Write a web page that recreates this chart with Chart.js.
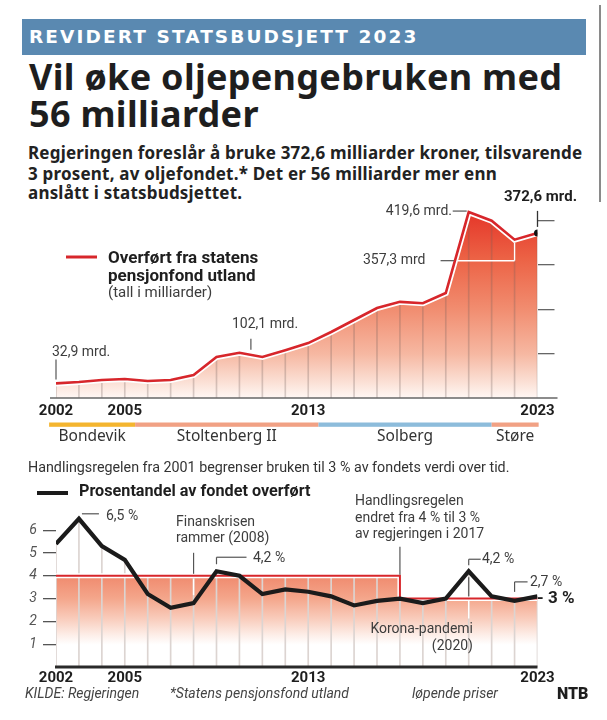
<!DOCTYPE html>
<html lang="no">
<head>
  <meta charset="utf-8" />
  <title>Revidert statsbudsjett 2023</title>
  <script src="https://cdn.jsdelivr.net/npm/chart.js"></script>
  <style>
    html, body { margin: 0; background: #fff; }
    body { width: 607px; height: 720px; position: relative; overflow: hidden; font-family: Roboto, "Noto Sans", sans-serif; color: #222; }
    .t { position: absolute; white-space: nowrap; line-height: 1; }
    .kicker { position: absolute; left: 22px; top: 19px; width: 564px; height: 36px; background: #5a89b1; color: #fff;
      font: 700 18.5px/36px "DejaVu Sans"; letter-spacing: 2.1px; padding-left: 7px; box-sizing: border-box; }
    .title { font-family: "Noto Sans"; font-size: 36px; font-weight: 700; color: #1e1e1e; letter-spacing: 0.3px; }
    .lead { font-family: "Noto Sans"; font-size: 17px; font-weight: 700; color: #222; letter-spacing: 0.2px; }
    .ann { font-size: 14px; color: #3d3d3d; }
    .legend { font-size: 17px; font-weight: 700; color: #1e1e1e; }
    .foot { font-size: 14px; font-style: italic; color: #444; }
    .gov { font-family: "Noto Sans"; font-size: 15.5px; color: #333; transform: translateX(-50%); }
    .edge { position: absolute; left: 599px; top: 5px; width: 2px; height: 197px; background: #8a8a8a; }
    canvas { position: absolute; left: 0; }
  </style>
</head>
<body>
  <div class="kicker">REVIDERT STATSBUDSJETT 2023</div>
  <div class="edge"></div>
  <div class="t title" style="left:29px; top:59px;">Vil øke oljepengebruken med</div>
  <div class="t title" style="left:29px; top:96px;">56 milliarder</div>
  <div class="t lead" style="left:28px; top:143.9px;">Regjeringen foreslår å bruke 372,6 milliarder kroner, tilsvarende</div>
  <div class="t lead" style="left:28px; top:164.9px;">3 prosent, av oljefondet.* Det er 56 milliarder mer enn</div>
  <div class="t lead" style="left:28px; top:184.4px;">anslått i statsbudsjettet.</div>

  <canvas id="topCanvas" width="607" height="265" style="top:190px; width:607px; height:265px;"></canvas>
  <canvas id="botCanvas" width="607" height="205" style="top:490px; width:607px; height:205px;"></canvas>

  <!-- top chart labels -->
  <div class="t legend" style="left:108px; top:248.7px;">Overført fra statens</div>
  <div class="t legend" style="left:108px; top:266.7px;">pensjonfond utland</div>
  <div class="t ann" style="left:108px; top:285.4px; font-size:15px;">(tall i milliarder)</div>
  <div class="t ann" style="left:52px; top:344.2px;">32,9 mrd.</div>
  <div class="t ann" style="left:232px; top:316.2px;">102,1 mrd.</div>
  <div class="t ann" style="right:155px; top:203.2px;">419,6 mrd.</div>
  <div class="t ann" style="left:363px; top:252.2px;">357,3 mrd</div>
  <div class="t ann" style="left:504px; top:189.4px; font-size:15px; font-weight:700; color:#1e1e1e;">372,6 mrd.</div>
  <div id="govLabels"></div>

  <!-- bottom chart labels -->
  <div class="t ann" style="left:28px; top:460px; font-size:14.3px; color:#333;">Handlingsregelen fra 2001 begrenser bruken til 3 % av fondets verdi over tid.</div>
  <div class="t legend" style="left:79px; top:483.4px; font-size:16.2px;">Prosentandel av fondet overført</div>
  <div class="t ann" style="left:106px; top:508.2px;">6,5 %</div>
  <div class="t ann" style="left:176px; top:514.2px;">Finanskrisen</div>
  <div class="t ann" style="left:176px; top:530.2px;">rammer (2008)</div>
  <div class="t ann" style="left:253px; top:550.2px;">4,2 %</div>
  <div class="t ann" style="left:355px; top:493.2px;">Handlingsregelen</div>
  <div class="t ann" style="left:355px; top:510.2px;">endret fra 4 % til 3 %</div>
  <div class="t ann" style="left:355px; top:526.2px;">av regjeringen i 2017</div>
  <div class="t ann" style="left:482px; top:551.2px;">4,2 %</div>
  <div class="t ann" style="right:134px; top:621.2px;">Korona-pandemi</div>
  <div class="t ann" style="right:134px; top:638.2px;">(2020)</div>
  <div class="t ann" style="left:530px; top:574.2px;">2,7 %</div>
  <div class="t ann" style="left:537px; top:588.7px; font-size:17px; font-weight:700; color:#1e1e1e;">- 3 %</div>

  <div class="t foot" style="left:25px; top:686.2px;">KILDE: Regjeringen</div>
  <div class="t foot" style="left:170px; top:686.2px;">*Statens pensjonsfond utland</div>
  <div class="t foot" style="left:412px; top:686.2px;">løpende priser</div>
  <div class="t" style="left:557px; top:685.5px; font-size:16px; font-weight:900; color:#1e1e1e;">NTB</div>

  <script>
    const years = [2002, 2003, 2004, 2005, 2006, 2007, 2008, 2009, 2010, 2011, 2012,
                   2013, 2014, 2015, 2016, 2017, 2018, 2019, 2020, 2021, 2022, 2023];
    // overført fra SPU, milliarder kroner
    const transfers = [32.9, 36, 40.6, 42.9, 38.4, 40.6, 52, 92.6, 102.1, 92.6, 108,
                       124, 149, 176, 203, 217, 214, 237, 419.6, 400, 357.3, 372.6];
    // prosent av fondet
    const pctOfFund = [5.4, 6.5, 5.3, 4.7, 3.2, 2.6, 2.8, 4.2, 4.0, 3.2, 3.4,
                       3.3, 3.1, 2.7, 2.9, 3.0, 2.8, 3.0, 4.2, 3.1, 2.9, 3.1];
    // handlingsregelen (4 % til 2017, deretter 3 %)
    const ruleLimit = [4, 4, 4, 4, 4, 4, 4, 4, 4, 4, 4,
                       4, 4, 4, 4, 3, 3, 3, 3, 3, 3, 3];
    const yearLabels = [2002, 2005, 2013, 2023];
    const transferTicks = [100, 200, 300, 400];
    const pctTicks = [1, 2, 3, 4, 5, 6];
    const govNames = ['Bondevik', 'Stoltenberg II', 'Solberg', 'Støre'];
    const govStart = [2001.7, 2005.45, 2013.45, 2021.0];
    const govEnd = [2005.45, 2013.45, 2021.0, 2023.05];
    const govColors = ['#f4b52f', '#f1a184', '#8dbcdb', '#f1a184'];

    const RED = '#d7262b';
    const pts = vals => years.map((y, i) => ({ x: y, y: vals[i] }));
    const grad = stops => c => {
      const a = c.chart.chartArea;
      if (!a) return stops[0][1];
      const g = c.chart.ctx.createLinearGradient(0, a.top, 0, a.bottom);
      stops.forEach(s => g.addColorStop(s[0], s[1]));
      return g;
    };
    const seg = (ctx, x1, y1, x2, y2, col, w) => {
      ctx.save();
      ctx.strokeStyle = col; ctx.lineWidth = w;
      ctx.beginPath(); ctx.moveTo(x1, y1); ctx.lineTo(x2, y2); ctx.stroke();
      ctx.restore();
    };
    const yearAxis = (pad, col) => ({
      type: 'linear', min: 2002, max: 2023, offset: false,
      grid: { display: false, drawTicks: false }, border: { display: false },
      afterBuildTicks: s => { s.ticks = yearLabels.map(v => ({ value: v })); },
      ticks: { autoSkip: false, maxRotation: 0, padding: pad, color: col,
               font: { family: 'Roboto', weight: 'bold', size: 15 }, callback: v => String(v) },
      afterFit: s => { s.height = 20; }
    });
    const LEADER = '#555';

    // ---- top chart: kroner ----
    const topNotes = {
      id: 'topNotes',
      afterDraw(chart) {
        const { ctx, chartArea: a, scales: { x, y } } = chart;
        const px = v => x.getPixelForValue(v), py = v => y.getPixelForValue(v);
        seg(ctx, a.left - 6, a.bottom, a.right + 20, a.bottom, '#666', 1.5);
        govNames.forEach((n, i) => {
          ctx.fillStyle = govColors[i];
          ctx.fillRect(px(govStart[i]), a.bottom + 24.5, px(govEnd[i]) - px(govStart[i]), 4.3);
        });
        // legend swatch
        seg(ctx, 66, 67, 97, 67, RED, 3);
        // leaders
        const p02 = py(transfers[0]);
        seg(ctx, px(2002), p02 - 4, px(2002), p02 - 24, LEADER, 1.2);
        const p10 = py(102.1);
        seg(ctx, px(2010.5), p10 - 3, px(2010.5), p10 - 14, LEADER, 1.2);
        const p20 = py(419.6);
        seg(ctx, px(2020) - 16, p20 - 1, px(2020) - 2, p20 - 1, LEADER, 1.2);
        const p22 = py(357.3), yl = p22 + 21;
        const x19 = px(2019), y19 = py(transfers[17]), x20 = px(2020);
        const xc = x19 + (x20 - x19) * (y19 - yl) / (y19 - p20);
        seg(ctx, px(2022), p22 + 3, px(2022), yl, '#fff', 1.4);
        seg(ctx, px(2022), yl, xc + 3, yl, '#fff', 1.4);
        seg(ctx, xc - 1, yl, px(2022) - 74, yl, LEADER, 1.2);
        const p23 = py(372.6);
        seg(ctx, px(2023), p23 - 6, px(2023), p23 - 22, '#333', 1.3);
      }
    };

    const topChart = new Chart(document.getElementById('topCanvas'), {
      type: 'line',
      data: {
        datasets: [
          { data: pts(transfers), borderColor: RED, borderWidth: 2.6, fill: false, order: 0,
            pointRadius: c => c.dataIndex === years.length - 1 ? 3.5 : 0,
            pointBackgroundColor: '#111', pointBorderWidth: 0 },
          { data: pts(transfers), borderColor: '#fff', borderWidth: 6, fill: false, pointRadius: 0, order: 1 },
          { type: 'bar', data: pts(transfers), barThickness: 1, backgroundColor: 'rgba(110,95,90,0.28)', order: 2 },
          { data: pts(transfers), borderWidth: 0, pointRadius: 0, fill: 'origin', order: 3,
            backgroundColor: grad([[0, '#e2281f'], [0.08, '#e5382a'], [0.3, '#ec6245'], [0.55, '#f18c6f'],
                                   [0.78, '#f6b8a2'], [0.92, '#fbe0d5'], [1, '#fff7f4']]) }
        ]
      },
      options: {
        responsive: false, animation: false, events: [],
        layout: { padding: { left: 56, right: 52.5, top: 8.6, bottom: 37 } },
        plugins: { legend: { display: false }, tooltip: { enabled: false } },
        scales: {
          x: yearAxis(4, '#1e1e1e'),
          y: {
            position: 'right', min: 0, max: 450,
            afterBuildTicks: s => { s.ticks = transferTicks.map(v => ({ value: v })); },
            grid: { drawOnChartArea: false, drawTicks: true, tickLength: 17, color: '#666', lineWidth: 1.3 },
            border: { display: false }, ticks: { display: false },
            afterFit: s => { s.width = 17; }
          }
        }
      },
      plugins: [topNotes]
    });

    // government labels under the coloured bar
    const gx = topChart.scales.x;
    document.getElementById('govLabels').innerHTML = govNames.map((n, i) => {
      const c = (gx.getPixelForValue(govStart[i]) + gx.getPixelForValue(govEnd[i])) / 2;
      return `<div class="t gov" style="left:${c}px; top:428.2px;">${n}</div>`;
    }).join('');

    // ---- bottom chart: prosent ----
    const botNotes = {
      id: 'botNotes',
      afterDraw(chart) {
        const { ctx, chartArea: a, scales: { x, y } } = chart;
        const px = v => x.getPixelForValue(v), py = v => y.getPixelForValue(v);
        seg(ctx, a.left - 1, a.bottom, a.right, a.bottom, '#2a2a2a', 3);
        seg(ctx, 37, 3, 68, 3, '#1b1b1b', 4);
        const p03 = py(6.5);
        seg(ctx, px(2003) + 3, p03 - 5, px(2003) + 20, p03 - 5, LEADER, 1.2);
        // finanskrisen
        const p08 = py(pctOfFund[6]);
        seg(ctx, px(2008), py(4) - 23, px(2008), py(4) - 2, LEADER, 1.2);
        seg(ctx, px(2008), py(4) + 3, px(2008), p08 - 8, '#fff', 1.4);
        const p09 = py(4.2);
        seg(ctx, px(2009), p09 - 7, px(2009), p09 - 14, LEADER, 1.2);
        seg(ctx, px(2009), p09 - 14, px(2009) + 30, p09 - 14, LEADER, 1.2);
        // regelendring 2017
        seg(ctx, px(2017), py(4) - 1, px(2017), py(4) - 29, LEADER, 1.2);
        // korona
        const p20 = py(4.2);
        seg(ctx, px(2020), p20 - 6, px(2020), p20 - 12, LEADER, 1.2);
        seg(ctx, px(2020), p20 - 12, px(2020) + 12, p20 - 12, LEADER, 1.2);
        seg(ctx, px(2020), p20 + 6, px(2020), py(3) - 2, LEADER, 1.2);
        seg(ctx, px(2020), py(3) + 2, px(2020), py(3) + 20, '#fff', 1.4);
        const p22 = py(pctOfFund[20]);
        seg(ctx, px(2022), p22 - 9, px(2022), p22 - 19, LEADER, 1.2);
        seg(ctx, px(2022), p22 - 19, px(2022) + 13, p22 - 19, LEADER, 1.2);
      }
    };

    new Chart(document.getElementById('botCanvas'), {
      type: 'line',
      data: {
        datasets: [
          { data: pts(pctOfFund), borderColor: '#1b1b1b', borderWidth: 4.2, fill: false, pointRadius: 0, order: 0 },
          { data: pts(ruleLimit), stepped: true, borderColor: RED, borderWidth: 2, fill: false, pointRadius: 0, order: 1 },
          { data: pts(ruleLimit), stepped: true, borderColor: '#fff', borderWidth: 5, fill: false, pointRadius: 0, order: 2 },
          { type: 'bar', data: years.map((yr, i) => ({ x: yr, y: Math.max(pctOfFund[i], ruleLimit[i]) })),
            barThickness: 1, backgroundColor: '#dcd4d1', order: 3 },
          { data: pts(ruleLimit), stepped: true, borderWidth: 0, pointRadius: 0, fill: 'origin', order: 4,
            backgroundColor: grad([[0, '#f08a6e'], [0.43, '#f08a6e'], [0.57, '#f4a68b'], [0.7, '#f9cdbd'],
                                   [0.8, '#fdeee8'], [0.86, '#ffffff'], [1, '#ffffff']]) }
        ]
      },
      options: {
        responsive: false, animation: false, events: [],
        layout: { padding: { left: 0, right: 69.5, top: 17.4, bottom: 8 } },
        plugins: { legend: { display: false }, tooltip: { enabled: false } },
        scales: {
          x: yearAxis(2, '#1e1e1e'),
          y: {
            position: 'left', min: 0, max: 7,
            afterBuildTicks: s => { s.ticks = pctTicks.map(v => ({ value: v })); },
            grid: { drawOnChartArea: false, drawTicks: true, tickLength: 13, color: '#555', lineWidth: 1.3 },
            border: { display: false },
            ticks: { color: '#555', padding: 6, font: { family: 'Roboto', style: 'italic', size: 14 } },
            afterFit: s => { s.width = 56; }
          }
        }
      },
      plugins: [botNotes]
    });
  </script>
</body>
</html>
